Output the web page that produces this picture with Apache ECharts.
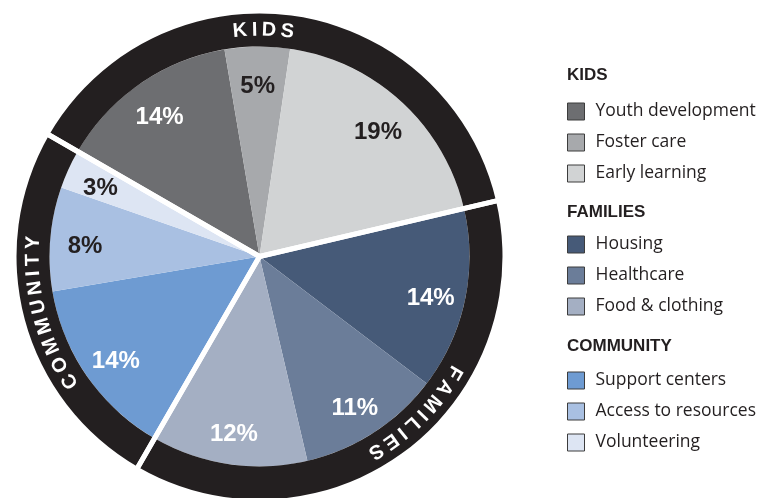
<!DOCTYPE html>
<html>
<head>
<meta charset="utf-8">
<script src="https://cdn.jsdelivr.net/npm/echarts@6/dist/echarts.min.js"></script>
<style>
html, body { margin: 0; padding: 0; background: #fff; }
#chart { width: 762px; height: 498px; }
</style>
</head>
<body>
<div id="chart"></div>
<script>
// slices, clockwise starting at the youth / volunteering cut
var categories = ['Youth development', 'Foster care', 'Early learning', 'Housing', 'Healthcare', 'Food & clothing', 'Support centers', 'Access to resources', 'Volunteering'];
var values = [14, 5, 19, 14, 11, 12, 14, 8, 3];
var groupOf = [0, 0, 0, 1, 1, 1, 2, 2, 2];
var groupNames = ['KIDS', 'FAMILIES', 'COMMUNITY'];

// colours and layout
var colors = ['#6d6e71', '#a7a9ac', '#d1d3d4', '#465a78', '#6b7d99', '#a4afc3', '#6e9bd2', '#a9c0e2', '#dde5f3'];
var labelColors = ['#fff', '#231f20', '#231f20', '#fff', '#fff', '#fff', '#fff', '#231f20', '#231f20'];
var ink = '#231f20';
var cx = 259.5, cy = 256.5;
var rPie = 210, rRing = 243;
var startAngle = 150;
var ringTextAngle = [89, -45, 195];   // centre of each curved word, degrees
var headerY = [75, 212, 346];
var legendTop = [102.5, 235.5, 371.5];

var chart = echarts.init(document.getElementById('chart'));

// group totals for the outer ring
var groupTotals = [0, 0, 0];
for (var i = 0; i < values.length; i++) {
  groupTotals[groupOf[i]] += values[i];
}

var pieData = categories.map(function (name, i) {
  return { name: name, value: values[i], itemStyle: { color: colors[i] } };
});
var labelData = categories.map(function (name, i) {
  return { name: name, value: values[i], label: { color: labelColors[i] } };
});
var groupData = groupNames.map(function (name, i) {
  return { name: name, value: groupTotals[i] };
});

// curved white letters on the black ring
var ringFont = 'bold 20px "Liberation Sans"';
var tracking = 4.5;
var rText = (rPie + rRing) / 2;
var ctx = document.createElement('canvas').getContext('2d');
ctx.font = ringFont;
var graphics = [];
groupNames.forEach(function (word, g) {
  var letters = word.split('');
  var widths = letters.map(function (ch) { return ctx.measureText(ch).width; });
  var total = widths.reduce(function (a, b) { return a + b; }, 0) + tracking * (letters.length - 1);
  var a0 = ringTextAngle[g] * Math.PI / 180 + total / 2 / rText;
  var pos = 0;
  letters.forEach(function (ch, k) {
    var a = a0 - (pos + widths[k] / 2) / rText;
    pos += widths[k] + tracking;
    graphics.push({
      type: 'text',
      x: cx + rText * Math.cos(a),
      y: cy - rText * Math.sin(a),
      rotation: a - Math.PI / 2,
      silent: true,
      z: 100,
      style: { text: ch, fill: '#fff', font: ringFont, align: 'center', verticalAlign: 'middle' }
    });
  });
});

// legend group headers
groupNames.forEach(function (word, g) {
  graphics.push({
    type: 'text',
    x: 567,
    y: headerY[g],
    silent: true,
    style: { text: word, fill: ink, font: 'bold 17px "Liberation Sans"', verticalAlign: 'middle' }
  });
});

var legends = groupNames.map(function (word, g) {
  return {
    orient: 'vertical',
    left: 567,
    top: legendTop[g],
    padding: 0,
    itemWidth: 17,
    itemHeight: 17,
    itemGap: 13,
    icon: 'rect',
    selectedMode: false,
    itemStyle: { borderColor: '#3c3c3c', borderWidth: 1 },
    textStyle: { color: ink, fontSize: 17.5, fontFamily: 'Open Sans', lineHeight: 17, padding: [0, 0, 0, 6] },
    data: categories.filter(function (n, i) { return groupOf[i] === g; })
  };
});

var option = {
  animation: false,
  legend: legends,
  graphic: graphics,
  series: [
    {
      type: 'pie',
      silent: true,
      center: [cx, cy],
      radius: [0, rPie],
      startAngle: startAngle,
      label: { show: false },
      labelLine: { show: false },
      data: pieData
    },
    {
      type: 'pie',
      silent: true,
      center: [cx, cy],
      radius: [rPie, rRing],
      startAngle: startAngle,
      itemStyle: { color: ink },
      label: { show: false },
      labelLine: { show: false },
      data: groupData
    },
    {
      // white cuts between the three groups
      type: 'pie',
      silent: true,
      center: [cx, cy],
      radius: [0, 262],
      startAngle: startAngle,
      itemStyle: { color: 'rgba(0,0,0,0)', borderColor: '#fff', borderWidth: 5 },
      label: { show: false },
      labelLine: { show: false },
      data: groupData
    },
    {
      // percentage labels
      type: 'pie',
      silent: true,
      center: [cx, cy],
      radius: [134, rPie],
      startAngle: startAngle,
      itemStyle: { color: 'rgba(0,0,0,0)' },
      label: {
        show: true,
        position: 'inside',
        formatter: '{c}%',
        fontSize: 24,
        fontWeight: 'bold',
        fontFamily: 'Liberation Sans',
        offset: [0, 5]
      },
      labelLine: { show: false },
      data: labelData
    }
  ]
};

chart.setOption(option);
</script>
</body>
</html>
